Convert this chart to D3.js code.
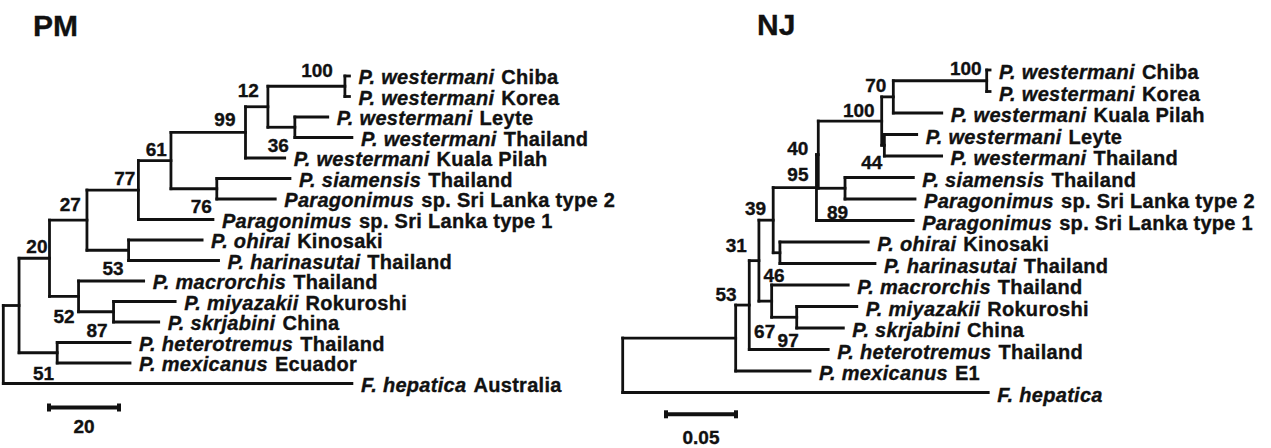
<!DOCTYPE html>
<html>
<head>
<meta charset="utf-8">
<script src="https://cdn.jsdelivr.net/npm/d3@7"></script>
<style>
  body { margin: 0; background: #fff; }
  svg { display: block; font-family: "Liberation Sans", Arial, sans-serif; font-weight: bold; fill: #111; }
  text { stroke: #111; stroke-width: 0.35; }
  .branch { stroke: #111; stroke-width: 2.8; fill: none; stroke-linecap: square; }
  .support { font-size: 19px; }
  .taxon { font-size: 20px; letter-spacing: 0.3px; }
  .taxon .sp { font-style: italic; }
  .title { font-size: 30px; }
  .bar { stroke: #111; stroke-width: 4; }
  .bar-label { font-size: 19px; }
</style>
</head>
<body>
<svg id="trees" width="1271" height="448"></svg>
<script>
// each row: [node, parent, branch length, bootstrap]
const pmEdges = [
  ["root", "", 0, null],
  ["a", "root", 4.5, null],
  ["n20", "a", 8.7, 20],
  ["n27", "n20", 10.7, 27],
  ["n77", "n27", 14.7, 77],
  ["n61", "n77", 9.3, 61],
  ["n99", "n61", 21.3, 99],
  ["n12", "n99", 6.4, 12],
  ["n100", "n12", 22, 100],
  ["wChiba", "n100", 1.3, null],
  ["wKorea", "n100", 1.3, null],
  ["n36", "n12", 7.7, 36],
  ["wLeyte", "n36", 9.4, null],
  ["wThai", "n36", 16.3, null],
  ["wKuala", "n99", 11.2, null],
  ["n76", "n61", 13.1, 76],
  ["siam", "n76", 20.9, null],
  ["sl2", "n76", 16.7, null],
  ["sl1", "n77", 21.3, null],
  ["n53", "n27", 11.9, 53],
  ["ohirai", "n53", 21, null],
  ["harin", "n53", 25.7, null],
  ["n52", "n20", 8.3, 52],
  ["macr", "n52", 18.6, null],
  ["n87", "n52", 10, 87],
  ["miy", "n87", 17.6, null],
  ["skr", "n87", 12.9, null],
  ["n51", "a", 10.9, 51],
  ["het", "n51", 20.8, null],
  ["mex", "n51", 20.8, null],
  ["hep", "root", 99.6, null]
];

const njEdges = [
  ["root", "", 0, null],
  ["n53", "root", 0.0807, 53],
  ["n67", "n53", 0.0097, 67],
  ["n31", "n67", 0.0069, 31],
  ["n39", "n31", 0.0102, 39],
  ["n95", "n39", 0.0309, 95],
  ["n40", "n95", 0.0013, 40],
  ["w100", "n40", 0.0453, 100],
  ["n70", "w100", 0.0083, 70],
  ["c100", "n70", 0.0667, 100],
  ["wChiba", "c100", 0.0024, null],
  ["wKorea", "c100", 0.0024, null],
  ["wKuala", "n70", 0.0346, null],
  ["n44", "w100", 0.0019, 44],
  ["wLeyte", "n44", 0.0231, null],
  ["wThai", "n44", 0.0409, null],
  ["n89", "n40", 0.0191, 89],
  ["siam", "n89", 0.0488, null],
  ["sl2", "n89", 0.05, null],
  ["sl1", "n95", 0.0691, null],
  ["oh", "n39", 0.0048, null],
  ["ohirai", "oh", 0.0631, null],
  ["harin", "oh", 0.0679, null],
  ["n46", "n31", 0.0091, 46],
  ["macr", "n46", 0.0547, null],
  ["n97", "n46", 0.0179, 97],
  ["miy", "n97", 0.0429, null],
  ["skr", "n97", 0.0333, null],
  ["het", "n67", 0.0564, null],
  ["mex", "n53", 0.0531, null],
  ["hep", "root", 0.2611, null]
];

// leaf labels: [node, species (italic), locality]
const pmTaxa = [
  ["wChiba", "P. westermani", "Chiba"],
  ["wKorea", "P. westermani", "Korea"],
  ["wLeyte", "P. westermani", "Leyte"],
  ["wThai", "P. westermani", "Thailand"],
  ["wKuala", "P. westermani", "Kuala Pilah"],
  ["siam", "P. siamensis", "Thailand"],
  ["sl2", "Paragonimus", "sp. Sri Lanka type 2"],
  ["sl1", "Paragonimus", "sp. Sri Lanka type 1"],
  ["ohirai", "P. ohirai", "Kinosaki"],
  ["harin", "P. harinasutai", "Thailand"],
  ["macr", "P. macrorchis", "Thailand"],
  ["miy", "P. miyazakii", "Rokuroshi"],
  ["skr", "P. skrjabini", "China"],
  ["het", "P. heterotremus", "Thailand"],
  ["mex", "P. mexicanus", "Ecuador"],
  ["hep", "F. hepatica", "Australia"]
];

const njTaxa = [
  ["wChiba", "P. westermani", "Chiba"],
  ["wKorea", "P. westermani", "Korea"],
  ["wKuala", "P. westermani", "Kuala Pilah"],
  ["wLeyte", "P. westermani", "Leyte"],
  ["wThai", "P. westermani", "Thailand"],
  ["siam", "P. siamensis", "Thailand"],
  ["sl2", "Paragonimus", "sp. Sri Lanka type 2"],
  ["sl1", "Paragonimus", "sp. Sri Lanka type 1"],
  ["ohirai", "P. ohirai", "Kinosaki"],
  ["harin", "P. harinasutai", "Thailand"],
  ["macr", "P. macrorchis", "Thailand"],
  ["miy", "P. miyazakii", "Rokuroshi"],
  ["skr", "P. skrjabini", "China"],
  ["het", "P. heterotremus", "Thailand"],
  ["mex", "P. mexicanus", "E1"],
  ["hep", "F. hepatica", ""]
];

const pmScaleBar = 20;
const njScaleBar = 0.05;

// where each bootstrap number sits relative to its node
const pmNudge = {
  n100: [-12, -9.5], n12: [-9, -10], n99: [-10, -6], n36: [-6, 25],
  n61: [-4, -5], n77: [-3, -5], n76: [-5, 24], n27: [-6, -9],
  n53: [-5, 25], n20: [-2, -5], n52: [-4, 27], n87: [-6, 25], n51: [-3, 27]
};
const njNudge = {
  c100: [-5, -6], n70: [-7, -5], w100: [-7, -4.5], n44: [-2, 24],
  n40: [-10, 0], n95: [-8, -6.5], n89: [3, 31], n39: [-7, -5],
  n31: [-12, -9], n46: [13, -19.5], n53: [1, -37], n67: [26, 33], n97: [2, 29.5]
};

const svg = d3.select("#trees");

const drawTree = (selection, props) => {
  const { edges, taxa, x, y, nudge, textDy } = props;

  const root = d3
    .stratify()
    .id(d => d[0])
    .parentId(d => d[1])(edges);

  root.eachBefore(d => {
    d.len = (d.parent ? d.parent.len : 0) + d.data[2];
    d.px = x(d.len);
  });
  root.leaves().forEach((d, i) => (d.py = y(i)));
  root.eachAfter(d => {
    if (d.children) {
      d.py = (d.children[0].py + d.children[d.children.length - 1].py) / 2;
    }
  });

  const g = selection.append("g");
  const nodes = root.descendants();

  // horizontal branches
  g.selectAll("line.h")
    .data(nodes.filter(d => d.parent))
    .enter()
    .append("line")
    .attr("class", "branch h")
    .attr("x1", d => d.parent.px)
    .attr("x2", d => d.px)
    .attr("y1", d => d.py)
    .attr("y2", d => d.py);

  // vertical connectors
  g.selectAll("line.v")
    .data(nodes.filter(d => d.children))
    .enter()
    .append("line")
    .attr("class", "branch v")
    .attr("x1", d => d.px)
    .attr("x2", d => d.px)
    .attr("y1", d => d.children[0].py)
    .attr("y2", d => d.children[d.children.length - 1].py);

  g.selectAll("text.support")
    .data(nodes.filter(d => d.data[3] != null))
    .enter()
    .append("text")
    .attr("class", "support")
    .attr("text-anchor", "end")
    .attr("x", d => d.px + nudge[d.id][0])
    .attr("y", d => d.py + nudge[d.id][1])
    .text(d => d.data[3]);

  const byId = new Map(nodes.map(d => [d.id, d]));
  const labels = g
    .selectAll("text.taxon")
    .data(taxa)
    .enter()
    .append("text")
    .attr("class", "taxon")
    .attr("x", d => byId.get(d[0]).px + 9)
    .attr("y", d => byId.get(d[0]).py + textDy);

  labels.append("tspan").attr("class", "sp").text(d => d[1]);
  labels.append("tspan").attr("dx", 7).text(d => d[2]);
};

const pmX = d3.scaleLinear().domain([0, pmScaleBar]).range([3.3, 73.3]);
const njX = d3.scaleLinear().domain([0, njScaleBar]).range([622.7, 692.7]);

drawTree(svg, {
  edges: pmEdges,
  taxa: pmTaxa,
  x: pmX,
  y: d3.scaleLinear().domain([0, pmTaxa.length - 1]).range([76, 383.5]),
  nudge: pmNudge,
  textDy: 8
});

drawTree(svg, {
  edges: njEdges,
  taxa: njTaxa,
  x: njX,
  y: d3.scaleLinear().domain([0, njTaxa.length - 1]).range([70, 392.5]),
  nudge: njNudge,
  textDy: 9
});

const scaleBar = (selection, props) => {
  const { x, value, left, top, labelY } = props;
  const w = x(value) - x(0);
  const g = selection.append("g");
  g.append("line")
    .attr("class", "bar")
    .attr("x1", left)
    .attr("x2", left + w)
    .attr("y1", top)
    .attr("y2", top);
  g.selectAll("rect")
    .data([left, left + w])
    .enter()
    .append("rect")
    .attr("x", d => d - 2)
    .attr("y", top - 4)
    .attr("width", 4)
    .attr("height", 8)
    .attr("fill", "#111");
  g.append("text")
    .attr("class", "bar-label")
    .attr("text-anchor", "middle")
    .attr("x", left + w / 2)
    .attr("y", labelY)
    .text(value);
};

scaleBar(svg, { x: pmX, value: pmScaleBar, left: 49, top: 407.5, labelY: 433 });
scaleBar(svg, { x: njX, value: njScaleBar, left: 666, top: 414.3, labelY: 444 });

svg.append("text").attr("class", "title").attr("x", 33).attr("y", 36).text("PM");
svg.append("text").attr("class", "title").attr("x", 757).attr("y", 35).text("NJ");
</script>
</body>
</html>
